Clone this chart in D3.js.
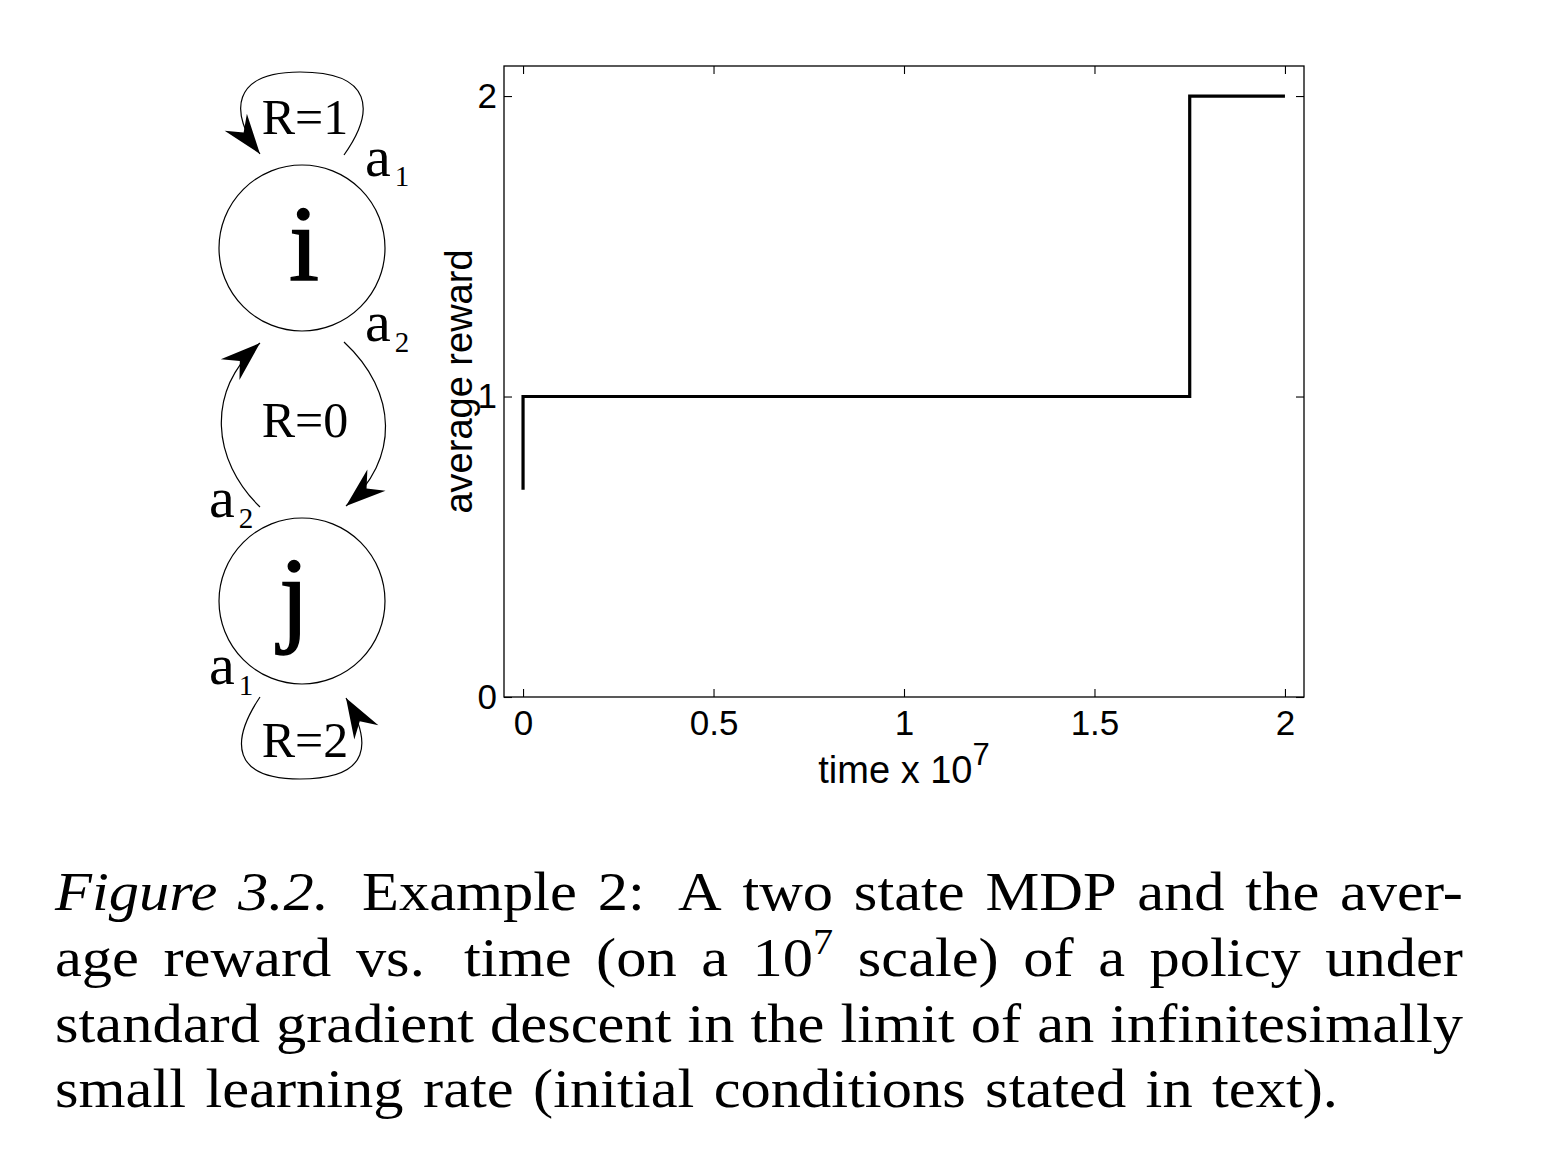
<!DOCTYPE html>
<html>
<head>
<meta charset="utf-8">
<script src="https://cdn.jsdelivr.net/npm/d3@7"></script>
<style>
  body { margin: 0; background: #fff; }
  svg { display: block; }
  .frame { fill: none; stroke: #000; stroke-width: 1.3; }
  .axis path.domain { display: none; }
  .axis line { stroke: #000; stroke-width: 1.1; }
  .axis text { font-family: 'Liberation Sans', Arial, sans-serif; font-size: 35px; fill: #000; }
  .label { font-family: 'Liberation Sans', Arial, sans-serif; font-size: 38px; fill: #000; }
  .serif { font-family: 'Liberation Serif', 'Times New Roman', serif; fill: #000; }
  .edge { fill: none; stroke: #000; stroke-width: 1.2; }
</style>
</head>
<body>
<div id="chart"></div>
<script>
// data
const xTicks = [0, 0.5, 1, 1.5, 2]
const yTicks = [0, 1, 2]
const timeValues = [0, 0, 1.75, 1.75, 2]
const rewardValues = [0.69, 1, 1, 2, 2]
const stateNames = ['i', 'j']
const rewardLabels = ['R=1', 'R=0', 'R=2']
const actionLabels = [['a', '1'], ['a', '2'], ['a', '2'], ['a', '1']]
const captionLines = [
  ['Figure', '3.2.', 'Example', '2:', 'A', 'two', 'state', 'MDP', 'and', 'the', 'aver-'],
  ['age', 'reward', 'vs.', 'time', '(on', 'a', '10^7', 'scale)', 'of', 'a', 'policy', 'under'],
  ['standard', 'gradient', 'descent', 'in', 'the', 'limit', 'of', 'an', 'infinitesimally'],
  ['small', 'learning', 'rate', '(initial', 'conditions', 'stated', 'in', 'text).']
]
const italicWords = ['Figure', '3.2.']

const width = 1568
const height = 1154

const svg = d3.select('#chart')
  .append('svg')
  .attr('width', width)
  .attr('height', height)

svg.append('rect').attr('width', width).attr('height', height).attr('fill', '#fff')

// plot
const box = {left: 504, right: 1304, top: 66, bottom: 697}
const x = d3.scaleLinear().domain([-0.05, 2.05]).range([box.left, box.right])
const y = d3.scaleLinear().domain([0, 2.1]).range([box.bottom, box.top])

svg.append('g')
  .attr('class', 'axis')
  .attr('transform', `translate(0,${box.bottom})`)
  .call(d3.axisBottom(x).tickValues(xTicks).tickSize(-8).tickSizeOuter(0).tickPadding(13).tickFormat(d3.format('')))
svg.append('g')
  .attr('class', 'axis')
  .attr('transform', `translate(0,${box.top})`)
  .call(d3.axisTop(x).tickValues(xTicks).tickSize(-8).tickSizeOuter(0).tickFormat(''))
svg.append('g')
  .attr('class', 'axis')
  .attr('transform', `translate(${box.left},0)`)
  .call(d3.axisLeft(y).tickValues(yTicks).tickSize(-8).tickSizeOuter(0).tickPadding(7).tickFormat(d3.format('')))
svg.append('g')
  .attr('class', 'axis')
  .attr('transform', `translate(${box.right},0)`)
  .call(d3.axisRight(y).tickValues(yTicks).tickSize(-8).tickSizeOuter(0).tickFormat(''))

svg.append('rect')
  .attr('class', 'frame')
  .attr('x', box.left)
  .attr('y', box.top)
  .attr('width', box.right - box.left)
  .attr('height', box.bottom - box.top)

const line = d3.line()
  .x((d, i) => x(timeValues[i]))
  .y(d => y(d))
svg.append('path')
  .datum(rewardValues)
  .attr('d', line)
  .attr('fill', 'none')
  .attr('stroke', '#000')
  .attr('stroke-width', 3.2)

const xLabel = svg.append('text')
  .attr('class', 'label')
  .attr('x', (box.left + box.right) / 2)
  .attr('y', 783)
  .attr('text-anchor', 'middle')
xLabel.append('tspan').text('time x 10')
xLabel.append('tspan').attr('dy', -18).style('font-size', '31px').text('7')

svg.append('text')
  .attr('class', 'label')
  .attr('transform', `translate(472,${(box.top + box.bottom) / 2}) rotate(-90)`)
  .attr('text-anchor', 'middle')
  .text('average reward')

// MDP diagram
const defs = svg.append('defs')
defs.append('marker')
  .attr('id', 'arrow')
  .attr('markerUnits', 'userSpaceOnUse')
  .attr('viewBox', '-42 -16 44 32')
  .attr('markerWidth', 44)
  .attr('markerHeight', 32)
  .attr('refX', 0)
  .attr('refY', 0)
  .attr('orient', 'auto')
  .append('path')
  .attr('d', 'M0,0 L-40,-14 L-27,0 L-40,14 Z')
  .attr('fill', '#000')

const stateY = [248, 601]
svg.selectAll('.state')
  .data(stateNames)
  .enter()
    .append('circle')
    .attr('class', 'state')
    .attr('cx', 302)
    .attr('cy', (d, i) => stateY[i])
    .attr('r', 83)
    .attr('fill', 'none')
    .attr('stroke', '#000')
    .attr('stroke-width', 1.2)
svg.selectAll('.stateName')
  .data(stateNames)
  .enter()
    .append('text')
    .attr('class', 'serif stateName')
    .attr('x', (d, i) => i ? 294 : 304)
    .attr('y', (d, i) => i ? 632 : 280)
    .attr('text-anchor', 'middle')
    .style('font-size', '108px')
    .style('stroke', '#000')
    .style('stroke-width', 1.5)
    .text(d => d)

const edges = [
  'M344,155 C376,110 372,72 300,72 C232,72 228,112 260,154',
  'M260,507 C212,460 205,392 260,343',
  'M344,342 C398,392 400,460 346,506',
  'M260,697 C230,742 232,779 300,779 C372,779 372,742 346,698'
]
svg.selectAll('.edge')
  .data(edges)
  .enter()
    .append('path')
    .attr('class', 'edge')
    .attr('d', d => d)
    .attr('marker-end', 'url(#arrow)')

const rewardY = [134, 437, 757]
svg.selectAll('.reward')
  .data(rewardLabels)
  .enter()
    .append('text')
    .attr('class', 'serif reward')
    .attr('x', 305)
    .attr('y', (d, i) => rewardY[i])
    .attr('text-anchor', 'middle')
    .style('font-size', '50px')
    .text(d => d)

const actionPos = [[365, 176, 10], [365, 341, 11], [209, 517, 11], [209, 684, 11]]
actionLabels.forEach((a, i) => {
  const [ax, ay, dy] = actionPos[i]
  const t = svg.append('text')
    .attr('class', 'serif')
    .attr('x', ax)
    .attr('y', ay)
    .style('font-size', '58px')
  t.append('tspan').text(a[0])
  t.append('tspan').attr('dx', 4).attr('dy', dy).style('font-size', '29px').text(a[1])
})

// caption, justified like the printed page
const captionLeft = 55
const captionRight = [1463, 1463, 1463, 1338]
const captionBaseline = [910, 976, 1042, 1107]
const stretch = 1.12
captionLines.forEach((words, li) => {
  const g = svg.append('g')
  const items = words.map(w => {
    const t = g.append('text')
      .attr('class', 'serif')
      .style('font-size', '54px')
    if (italicWords.includes(w) && li === 0) t.style('font-style', 'italic')
    if (w.includes('^')) {
      const [base, sup] = w.split('^')
      t.append('tspan').text(base)
      t.append('tspan').attr('dy', -22).style('font-size', '36px').text(sup)
    } else {
      t.text(w)
    }
    const wide = /[.:]$/.test(w) && w !== 'text).'
    return {t, w: t.node().getComputedTextLength() * stretch, gap: wide ? 1.6 : 1}
  })
  const total = d3.sum(items, d => d.w)
  const weights = d3.sum(items.slice(0, -1), d => d.gap)
  const unit = (captionRight[li] - captionLeft - total) / weights
  let cx = captionLeft
  items.forEach(d => {
    d.t.attr('transform', `translate(${cx},${captionBaseline[li]}) scale(${stretch},1)`)
    cx += d.w + unit * d.gap
  })
})
</script>
</body>
</html>
